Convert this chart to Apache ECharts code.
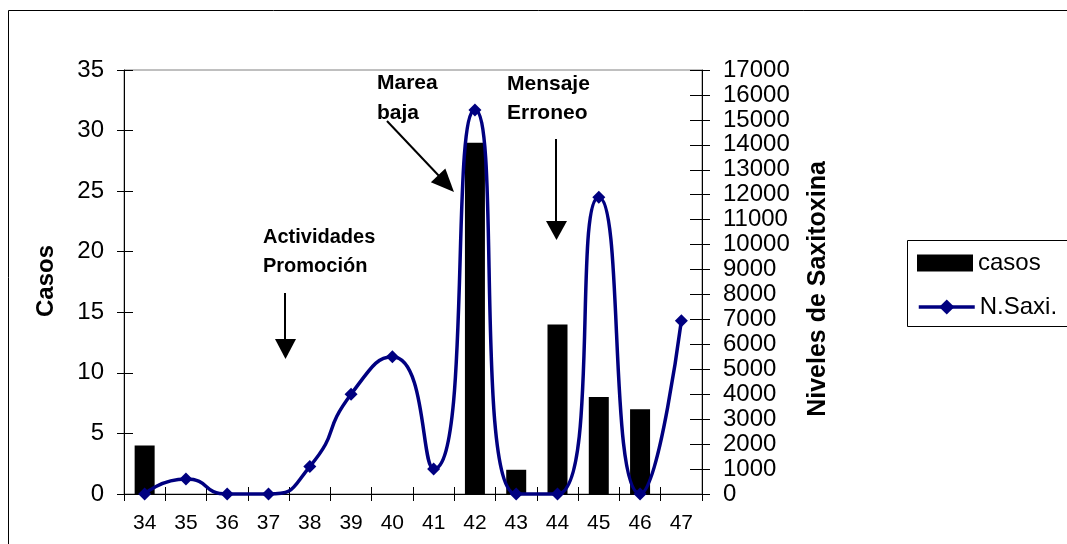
<!DOCTYPE html>
<html>
<head>
<meta charset="utf-8">
<script src="https://cdn.jsdelivr.net/npm/echarts@6/dist/echarts.min.js"></script>
<style>
html,body{margin:0;padding:0;background:#fff;}
#c{width:1067px;height:544px;}
</style>
</head>
<body>
<div id="c"></div>
<script>
// ---- data ----
const categories = ['34','35','36','37','38','39','40','41','42','43','44','45','46','47'];
const casos = [4, 0, 0, 0, 0, 0, 0, 0, 29, 2, 14, 8, 7, 0];
const nSaxi = [0, 600, 0, 0, 1100, 4000, 5500, 1000, 15400, 0, 0, 11900, 0, 6950];
const leftAxis = { min: 0, max: 35, interval: 5 };
const rightAxis = { min: 0, max: 17000, interval: 1000 };
const seriesNames = ['casos', 'N.Saxi.'];

const FONT = '"Liberation Sans", Arial, sans-serif';
const chart = echarts.init(document.getElementById('c'), null, { renderer: 'canvas' });

function arrowHead(tipX, tipY, dx, dy, len, half) {
  const n = Math.hypot(dx, dy); const ux = dx / n, uy = dy / n;
  const bx = tipX - ux * len, by = tipY - uy * len;
  return [[tipX, tipY], [bx - uy * half, by + ux * half], [bx + uy * half, by - ux * half]];
}

const txt = (x, y, t, size, extra) => Object.assign({
  type: 'text', x: x, y: y, z: 100,
  style: { text: t, fill: '#000', fontFamily: FONT, fontSize: size, fontWeight: 'bold', verticalAlign: 'middle', align: 'left' }
}, extra || {});

const legendText = { fontFamily: FONT, fontSize: 24, color: '#000', lineHeight: 24 };

const option = {
  animation: false,
  backgroundColor: '#fff',
  grid: { left: 124, right: 365, top: 70, bottom: 50, show: true, borderColor: '#808080', borderWidth: 1, containLabel: false },
  legend: [
    { data: [{ name: seriesNames[0], icon: 'rect' }], orient: 'vertical', left: 917, top: 251, padding: 0, itemWidth: 56, itemHeight: 17, itemGap: 0,
      textStyle: legendText },
    { data: [seriesNames[1]], orient: 'vertical', left: 917, top: 295, padding: 0, itemWidth: 56, itemHeight: 19, itemGap: 0,
      lineStyle: { width: 3.5, color: '#000080' }, textStyle: legendText }
  ],
  xAxis: [
    { type: 'category', data: categories, position: 'bottom', boundaryGap: true,
      axisLine: { lineStyle: { color: '#000', width: 1 } },
      axisTick: { show: true, length: 7, inside: false, lineStyle: { color: '#000' } },
      axisLabel: { fontFamily: FONT, fontSize: 21, color: '#000', margin: 19 } },
    { type: 'category', data: categories, position: 'bottom', boundaryGap: true,
      axisLine: { show: false }, axisLabel: { show: false },
      axisTick: { show: true, length: 7, inside: true, lineStyle: { color: '#000' } } }
  ],
  yAxis: [
    { type: 'value', position: 'left', min: leftAxis.min, max: leftAxis.max, interval: leftAxis.interval,
      axisLine: { show: true, lineStyle: { color: '#000' } }, splitLine: { show: false },
      axisTick: { show: true, length: 7, lineStyle: { color: '#000' } },
      axisLabel: { fontFamily: FONT, fontSize: 24, color: '#000', margin: 20 } },
    { type: 'value', position: 'right', min: rightAxis.min, max: rightAxis.max, interval: rightAxis.interval,
      axisLine: { show: true, lineStyle: { color: '#000' } }, splitLine: { show: false },
      axisTick: { show: true, length: 8, lineStyle: { color: '#000' } },
      axisLabel: { fontFamily: FONT, fontSize: 24, color: '#000', margin: 21, formatter: v => String(v) } },
    { type: 'value', position: 'left', min: leftAxis.min, max: leftAxis.max, interval: leftAxis.interval,
      axisLine: { show: false }, splitLine: { show: false }, axisLabel: { show: false },
      axisTick: { show: true, inside: true, length: 9, lineStyle: { color: '#000' } } },
    { type: 'value', position: 'right', min: rightAxis.min, max: rightAxis.max, interval: rightAxis.interval,
      axisLine: { show: false }, splitLine: { show: false }, axisLabel: { show: false },
      axisTick: { show: true, inside: true, length: 12, lineStyle: { color: '#000' } } }
  ],
  series: [
    { name: seriesNames[0], type: 'bar', data: casos, xAxisIndex: 0, yAxisIndex: 0, barWidth: 20,
      itemStyle: { color: '#000' } },
    { name: seriesNames[1], type: 'line', data: nSaxi, xAxisIndex: 0, yAxisIndex: 1, smooth: 0.6,
      symbol: 'diamond', symbolSize: 13, z: 5, clip: false,
      lineStyle: { color: '#000080', width: 3.5 }, itemStyle: { color: '#000080' } }
  ],
  graphic: [
    { type: 'rect', shape: { x: 8.5, y: 10.5, width: 1100, height: 600 }, style: { fill: null, stroke: '#000', lineWidth: 1 }, silent: true },
    { type: 'rect', shape: { x: 907.5, y: 240.5, width: 200, height: 86 }, style: { fill: null, stroke: '#000', lineWidth: 1 }, silent: true },
    txt(46, 281, 'Casos', 24, { rotation: Math.PI / 2, style: { text: 'Casos', fill: '#000', fontFamily: FONT, fontSize: 24, fontWeight: 'bold', align: 'center', verticalAlign: 'middle' } }),
    txt(818, 289, 'Niveles de Saxitoxina', 25, { rotation: Math.PI / 2, style: { text: 'Niveles de Saxitoxina', fill: '#000', fontFamily: FONT, fontSize: 25, fontWeight: 'bold', align: 'center', verticalAlign: 'middle' } }),
    txt(377, 83, 'Marea', 21), txt(377, 113, 'baja', 21),
    txt(507, 84, 'Mensaje', 21), txt(507, 113, 'Erroneo', 21),
    txt(263, 237, 'Actividades', 20), txt(263, 266, 'Promoción', 20),
    // arrows
    { type: 'line', z: 100, shape: { x1: 285, y1: 293, x2: 285, y2: 340 }, style: { stroke: '#000', lineWidth: 2 } },
    { type: 'polygon', z: 100, shape: { points: arrowHead(285.5, 359, 0, 1, 20, 10.5) }, style: { fill: '#000' } },
    { type: 'line', z: 100, shape: { x1: 556, y1: 139, x2: 556, y2: 222 }, style: { stroke: '#000', lineWidth: 2 } },
    { type: 'polygon', z: 100, shape: { points: arrowHead(556.5, 240, 0, 1, 19, 10.5) }, style: { fill: '#000' } },
    { type: 'line', z: 100, shape: { x1: 387, y1: 121, x2: 440, y2: 177 }, style: { stroke: '#000', lineWidth: 2 } },
    { type: 'polygon', z: 100, shape: { points: arrowHead(454, 192, 67, 70, 23, 10) }, style: { fill: '#000' } }
  ]
};
chart.setOption(option);
</script>
</body>
</html>
